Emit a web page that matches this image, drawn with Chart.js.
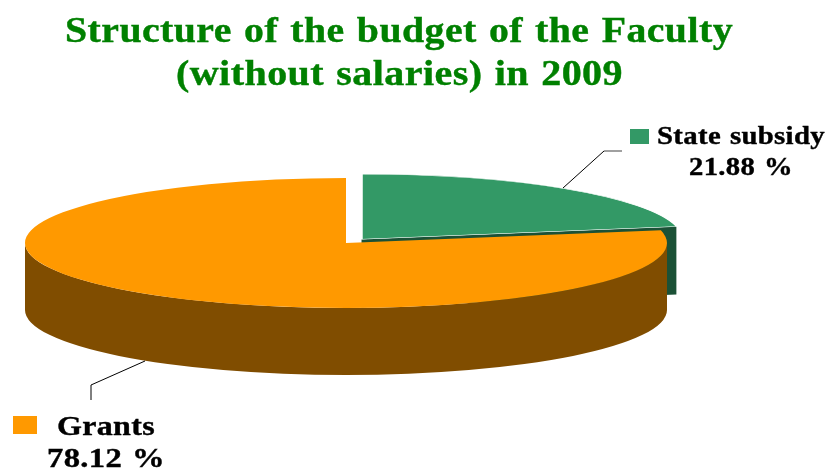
<!DOCTYPE html>
<html>
<head>
<meta charset="utf-8">
<title>Structure of the budget of the Faculty</title>
<script src="https://cdn.jsdelivr.net/npm/chart.js@4"></script>
<style>
  html, body { margin: 0; padding: 0; background: #fff; }
  #wrap { position: relative; width: 827px; height: 470px; }
</style>
</head>
<body>
<div id="wrap"><canvas id="chartBudget"></canvas></div>
<script>
const categories = ['State subsidy', 'Grants'];
const shares = [21.88, 78.12];
const topColors = ['#339966', '#FF9900'];
const sideColors = ['#1B5136', '#804D00'];
const titleLines = ['Structure of the budget of the Faculty', '(without salaries) in 2009'];

// ellipse of the pie on the page
const pieX = 346, pieY = 243, radiusX = 321, radiusY = 65, depth = 67;
const SERIF = '"Liberation Serif", serif';

// text stretched to the width it has in the picture
function putText(ctx, text, x, y, width, font, color, gap) {
  ctx.save();
  ctx.font = font;
  ctx.fillStyle = color;
  ctx.strokeStyle = color;
  ctx.lineWidth = 0.4;
  ctx.letterSpacing = gap + 'px';
  ctx.wordSpacing = gap * 4 + 'px';
  ctx.textBaseline = 'alphabetic';
  ctx.textAlign = 'left';
  ctx.translate(x, y);
  ctx.scale(width / ctx.measureText(text).width, 1);
  ctx.fillText(text, 0, 0);
  ctx.strokeText(text, 0, 0);
  ctx.restore();
}

function leader(ctx, pts, color, width) {
  ctx.save();
  ctx.strokeStyle = color;
  ctx.lineWidth = width;
  ctx.beginPath();
  pts.forEach((p, i) => i ? ctx.lineTo(p[0], p[1]) : ctx.moveTo(p[0], p[1]));
  ctx.stroke();
  ctx.restore();
}

// side walls, under the flattened arcs
const walls = {
  id: 'walls',
  beforeDatasetsDraw(chart) {
    const ctx = chart.ctx;
    const arcs = chart.getDatasetMeta(0).data;
    const R = arcs[0].outerRadius;
    const sx = radiusX / R, sy = radiusY / R;

    arcs.forEach((arc, i) => {
      const mid = (arc.startAngle + arc.endAngle) / 2;
      const off = arc.options.offset / 4; // arc element moves by a quarter of offset
      const cx = pieX + Math.cos(mid) * off * sx;
      const cy = pieY + Math.sin(mid) * off * sy;

      ctx.save();
      ctx.fillStyle = sideColors[i];
      // cut face of the wedge that looks at the viewer
      if (arc.endAngle < 0) {
        const tx = cx + Math.cos(arc.endAngle) * radiusX;
        const ty = cy + Math.sin(arc.endAngle) * radiusY;
        ctx.beginPath();
        ctx.moveTo(cx, cy);
        ctx.lineTo(tx, ty);
        ctx.lineTo(tx, ty + depth + 1);
        ctx.lineTo(cx, cy + depth + 1);
        ctx.closePath();
        ctx.fill();
      }
      // outer wall, front half only
      const from = Math.max(arc.startAngle, 0);
      const to = Math.min(arc.endAngle, Math.PI);
      if (to > from) {
        ctx.beginPath();
        ctx.ellipse(cx, cy, radiusX, radiusY, 0, from, to);
        ctx.ellipse(cx, cy + depth, radiusX, radiusY, 0, to, from, true);
        ctx.closePath();
        ctx.fill();
      }
      ctx.restore();
    });
  },
  beforeDatasetDraw(chart) {
    const arc = chart.getDatasetMeta(0).data[0];
    const ctx = chart.ctx;
    ctx.save();
    ctx.translate(pieX, pieY);
    ctx.scale(radiusX / arc.outerRadius, radiusY / arc.outerRadius);
    ctx.translate(-arc.x, -arc.y);
  },
  afterDatasetDraw(chart) {
    chart.ctx.restore();
  }
};

const labels = {
  id: 'labels',
  afterDraw(chart) {
    const ctx = chart.ctx;
    const green = '#008000';
    putText(ctx, titleLines[0], 65, 42, 668, 'bold 36px ' + SERIF, green, 0.4);
    putText(ctx, titleLines[1], 176, 85, 447, 'bold 36px ' + SERIF, green, 0.4);

    leader(ctx, [[563, 188], [604, 151]], '#000', 1);
    leader(ctx, [[604, 151], [622, 151]], '#808080', 1.5);
    ctx.fillStyle = topColors[0];
    ctx.fillRect(630, 129, 19, 15);
    putText(ctx, categories[0], 657, 144, 168, 'bold 25px ' + SERIF, '#000', 0.3);
    putText(ctx, shares[0].toFixed(2) + ' %', 689, 175, 104, 'bold 25px ' + SERIF, '#000', 0.3);

    leader(ctx, [[145, 361], [91, 385], [91, 400]], '#000', 1);
    ctx.fillStyle = topColors[1];
    ctx.fillRect(13, 416, 24, 18);
    putText(ctx, categories[1], 57, 435, 98, 'bold 28px ' + SERIF, '#000', 0.3);
    putText(ctx, shares[1].toFixed(2) + ' %', 47, 467, 118, 'bold 28px ' + SERIF, '#000', 0.3);
  }
};

new Chart(document.getElementById('chartBudget'), {
  type: 'pie',
  data: {
    labels: categories,
    datasets: [{
      data: shares,
      backgroundColor: topColors,
      borderColor: ['#FFFFFF', 'rgba(0,0,0,0)'],
      borderWidth: [1.5, 0],
      offset: [62, 0],
      clip: false
    }]
  },
  options: {
    responsive: true,
    maintainAspectRatio: false,
    animation: false,
    plugins: {
      legend: { display: false },
      title: { display: false },
      tooltip: { enabled: false }
    }
  },
  plugins: [walls, labels]
});
</script>
</body>
</html>
